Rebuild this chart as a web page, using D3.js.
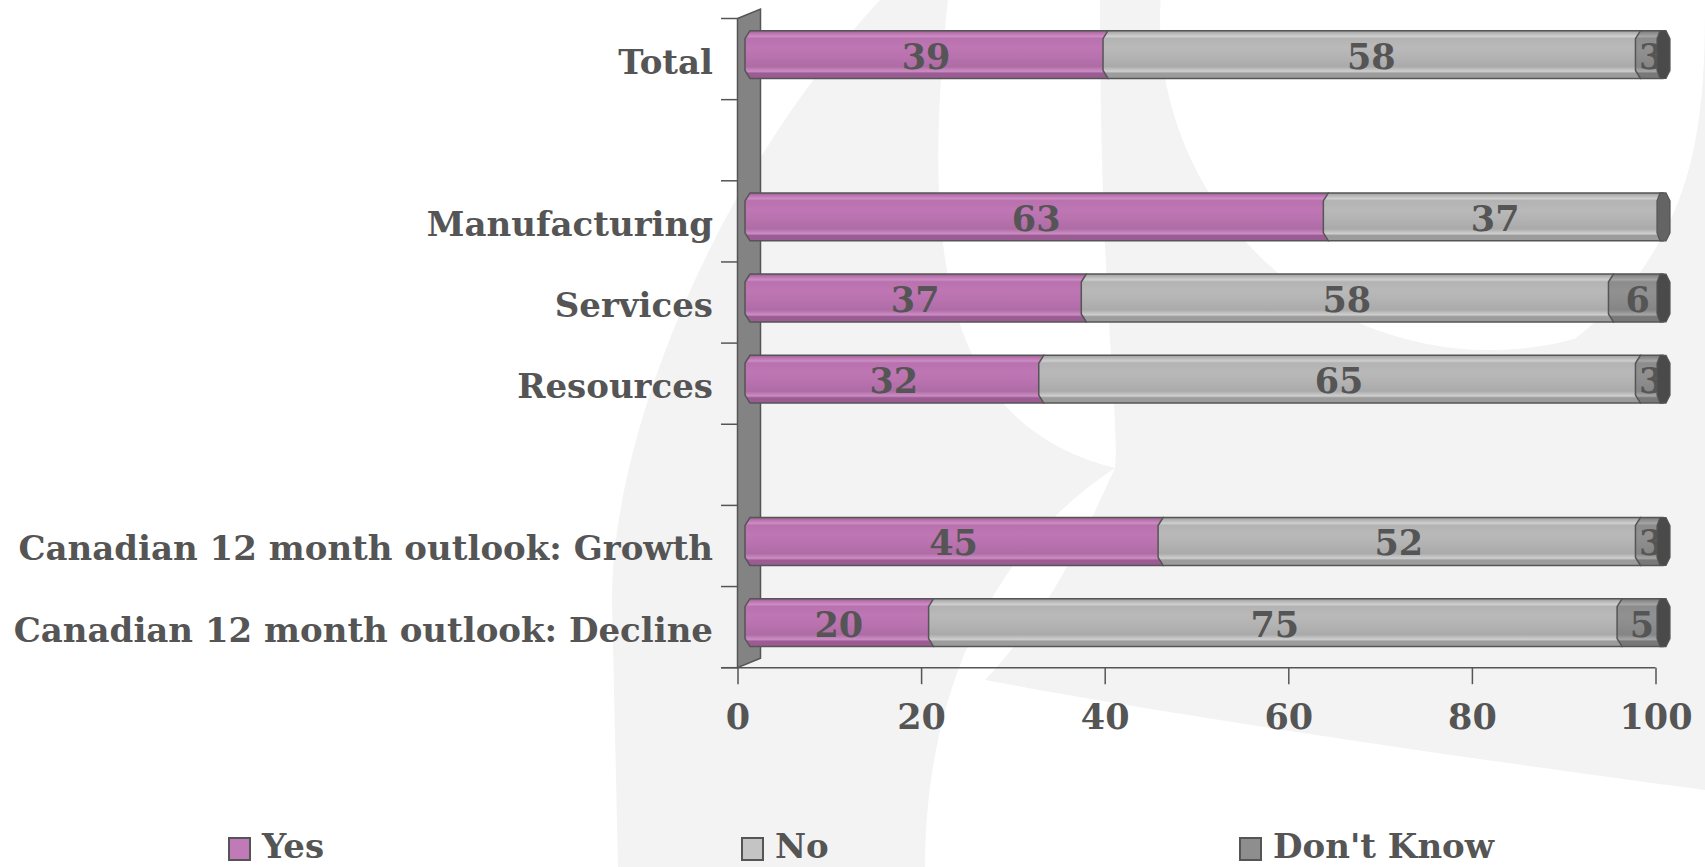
<!DOCTYPE html>
<html>
<head>
<meta charset="utf-8">
<script src="https://cdn.jsdelivr.net/npm/d3@7"></script>
<style>
  html, body { margin: 0; padding: 0; background: #ffffff; }
  svg { display: block; }
  text { font-family: "DejaVu Serif", "Liberation Serif", serif; font-weight: bold; fill: #555555; }
</style>
</head>
<body>
<svg id="chart" width="1705" height="867"></svg>
<script>
// ---------------- DATA ----------------
const categories = ["Total", "Manufacturing", "Services", "Resources",
  "Canadian 12 month outlook: Growth", "Canadian 12 month outlook: Decline"];
// row order on the category axis (null = empty row)
const rowOrder = ["Total", null, "Manufacturing", "Services", "Resources", null,
  "Canadian 12 month outlook: Growth", "Canadian 12 month outlook: Decline"];
const seriesNames = ["Yes", "No", "Don't Know"];
const yesValues = [39, 63, 37, 32, 45, 20];
const noValues = [58, 37, 58, 65, 52, 75];
const dontKnowValues = [3, 0, 6, 3, 3, 5];
const xTickValues = [0, 20, 40, 60, 80, 100];

// ---------------- SETUP ----------------
const svg = d3.select("#chart");

const colors = {
  "Yes": { base: "#b872ae", light: "#cc8dc4", dark: "#9a5c93", cap: "#7d4a78", legend: "#c07ab8" },
  "No": { base: "#b3b3b3", light: "#cfcfcf", dark: "#9c9c9c", cap: "#646464", legend: "#c4c4c4" },
  "Don't Know": { base: "#8c8c8c", light: "#a6a6a6", dark: "#787878", cap: "#4a4a4a", legend: "#8e8e8e" }
};

// ---------------- WATERMARK BACKGROUND ----------------
const wm = svg.append("g").attr("fill", "#f3f3f3");
wm.append("path").attr("d",
  "M880,0 C720,170 612,430 612,600 L618,867 L925,867 C925,720 975,560 1115,468 C965,430 915,300 948,0 Z");
wm.append("path").attr("d",
  "M1100,0 L1705,0 L1705,790 C1480,760 1200,720 985,680 C1060,600 1090,520 1115,468 C1120,420 1100,300 1100,0 Z");
wm.append("circle").attr("cx", 1490).attr("cy", 20).attr("r", 330).attr("fill", "#ffffff");
wm.append("path").attr("fill", "#f3f3f3").attr("d",
  "M1705,0 L1705,300 C1650,330 1600,345 1560,350 C1700,250 1705,120 1705,0 Z");

// ---------------- SCALES ----------------
const x = d3.scaleLinear().domain([0, 100]).range([737.5, 1655.5]);
const y = d3.scaleBand().domain(d3.range(rowOrder.length)).range([18.5, 667.7]);
const depthX = 23, depthY = -9.5;          // wall depth
const barDX = 7.5, barDY = -4.5;            // bars sit inside the depth
const barH = y.bandwidth() * 0.59;

// ---------------- WALL + AXES ----------------
const axisColor = "#555555";
const x0 = x(0), yTop = y.range()[0], yBot = y.range()[1];
svg.append("path")
  .attr("d", `M${x0},${yTop} L${x0 + depthX},${yTop + depthY} L${x0 + depthX},${yBot + depthY} L${x0},${yBot} Z`)
  .attr("fill", "#838383").attr("stroke", axisColor).attr("stroke-width", 1.5);

// category-axis tick marks at band boundaries
const boundaries = d3.range(rowOrder.length + 1).map(i => yTop + i * y.step());
svg.append("g").selectAll("line").data(boundaries).join("line")
  .attr("x1", x0 - 16.5).attr("x2", x0)
  .attr("y1", d => d).attr("y2", d => d)
  .attr("stroke", axisColor).attr("stroke-width", 1.5);

// value axis
const xAxis = d3.axisBottom(x).tickValues(xTickValues).tickSize(16.5).tickSizeOuter(0).tickPadding(20);
const gx = svg.append("g").attr("transform", `translate(0,${yBot})`).call(xAxis);
gx.select(".domain").remove();
gx.append("line").attr("x1", x0 - 16.5).attr("x2", x(100)).attr("y1", 0).attr("y2", 0)
  .attr("stroke", axisColor).attr("stroke-width", 1.5);
gx.selectAll(".tick line").attr("stroke", axisColor).attr("stroke-width", 1.5);
gx.selectAll(".tick text")
  .attr("font-size", 35).attr("font-family", "DejaVu Serif").attr("font-weight", "bold")
  .attr("fill", "#555555").attr("dy", null).attr("y", 61);

// category labels
const labelG = svg.append("g");
rowOrder.forEach((name, i) => {
  if (!name) return;
  labelG.append("text")
    .attr("x", 713)
    .attr("y", y(i) + y.bandwidth() / 2 + 14.5)
    .attr("text-anchor", "end")
    .attr("font-size", 34)
    .text(name);
});

// ---------------- BARS ----------------
const rows = categories.map((c, i) => ({
  category: c, "Yes": yesValues[i], "No": noValues[i], "Don't Know": dontKnowValues[i]
}));
const stacked = d3.stack().keys(seriesNames).offset(d3.stackOffsetExpand)(rows);

const defs = svg.append("defs");
seriesNames.forEach((s, k) => {
  const c = colors[s];
  const g = defs.append("linearGradient").attr("id", "grad" + k)
    .attr("x1", 0).attr("y1", 0).attr("x2", 0).attr("y2", 1);
  const stops = [
    [0, c.dark], [0.05, c.base], [0.12, c.light], [0.16, c.base],
    [0.35, d3.color(c.base).brighter(0.1)], [0.55, c.base], [0.75, d3.color(c.base).darker(0.15)],
    [0.85, c.light], [0.89, c.dark], [1, c.dark]
  ];
  stops.forEach(([o, col]) => g.append("stop").attr("offset", o).attr("stop-color", col));
});

const bx = v => x(v * 100) + barDX;
const ch = 5, cv = 8; // chamfer sizes

rows.forEach((row, ri) => {
  const slot = rowOrder.indexOf(row.category);
  const cy = y(slot) + y.bandwidth() / 2 + barDY;
  const top = cy - barH / 2, bot = cy + barH / 2;
  const g = svg.append("g");
  const segs = stacked.map((layer, k) => ({ k, name: layer.key, a: layer[ri][0], b: layer[ri][1], v: row[layer.key] }))
    .filter(d => d.v > 0);
  segs.forEach((d, j) => {
    const xa = bx(d.a), xb = bx(d.b);
    const isLast = j === segs.length - 1;
    const xe = isLast ? xb : xb + ch;
    g.append("path")
      .attr("d", `M${xa + ch},${top} L${xe},${top} L${xe},${bot} L${xa + ch},${bot} L${xa},${bot - cv} L${xa},${top + cv} Z`)
      .attr("fill", `url(#grad${d.k})`)
      .attr("stroke", "#555555").attr("stroke-width", 1.5);
  });
  // labels
  segs.forEach(d => {
    g.append("text")
      .attr("x", (bx(d.a) + bx(d.b)) / 2 + 2)
      .attr("y", cy + 14)
      .attr("text-anchor", "middle")
      .attr("font-size", 35)
      .text(d.v);
  });
  // end cap
  const last = segs[segs.length - 1];
  const xe = bx(last.b);
  g.append("path")
    .attr("d", `M${xe - 3},${top} L${xe + 3},${top} L${xe + 7},${top + cv} L${xe + 7},${bot - cv} L${xe + 3},${bot} L${xe - 3},${bot} L${xe - 6},${bot - cv} L${xe - 6},${top + cv} Z`)
    .attr("fill", colors[last.name].cap)
    .attr("stroke", "#555555").attr("stroke-width", 1.2);
});

// ---------------- LEGEND ----------------
const legendX = [229, 742, 1240];
const legend = svg.append("g");
seriesNames.forEach((s, k) => {
  legend.append("rect")
    .attr("x", legendX[k]).attr("y", 838).attr("width", 21).attr("height", 22)
    .attr("fill", colors[s].legend).attr("stroke", "#555555").attr("stroke-width", 2);
  legend.append("text")
    .attr("x", legendX[k] + 33).attr("y", 858)
    .attr("font-size", 34)
    .text(s);
});
</script>
</body>
</html>
